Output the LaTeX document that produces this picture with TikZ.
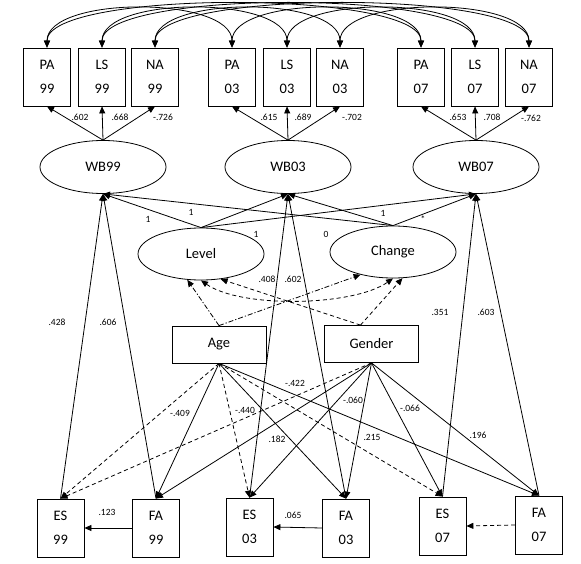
\documentclass[tikz,border=0pt]{standalone}
\usepackage{fontspec}
\setmainfont{Carlito}
\usepackage{tikz}
\usetikzlibrary{arrows.meta,shapes.geometric}

\begin{document}
\begin{tikzpicture}[
  x=1pt, y=-1pt,
  font=\fontsize{14.5}{24}\selectfont,
  obs/.style={draw, line width=0.8pt, align=center, minimum width=47pt, minimum height=58pt, inner sep=0pt},
  lat/.style={draw, ellipse, line width=0.8pt, minimum width=126pt, minimum height=53pt, inner sep=0pt},
  demo/.style={draw, line width=0.8pt, minimum width=94pt, minimum height=37pt, inner sep=0pt},
  lbl/.style={font=\fontsize{9.5}{11}\selectfont, inner sep=0pt},
  arr/.style={-{Triangle[length=7pt,width=6pt]}, line width=0.8pt},
  dsh/.style={arr, dash pattern=on 4pt off 3pt},
  dshdot/.style={arr, dash pattern=on 5pt off 2pt on 1.2pt off 2pt},
  cov/.style={{Triangle[length=7pt,width=6pt]}-{Triangle[length=7pt,width=6pt]}, line width=0.8pt}
]
\useasboundingbox (0,0) rectangle (581,564);
% indicators
\node[obs] (pa99) at (47,77) {PA\\99};
\node[obs] (ls99) at (102,77) {LS\\99};
\node[obs] (na99) at (155,77) {NA\\99};
\node[obs] (pa03) at (232,77) {PA\\03};
\node[obs] (ls03) at (287,77) {LS\\03};
\node[obs] (na03) at (340,77) {NA\\03};
\node[obs] (pa07) at (421,77) {PA\\07};
\node[obs] (ls07) at (475,77) {LS\\07};
\node[obs] (na07) at (529,77) {NA\\07};
% latent
\node[lat] (wb99) at (103,167) {WB99};
\node[lat] (wb03) at (288,167) {WB03};
\node[lat] (wb07) at (476,167) {WB07};
\node[lat, minimum height=52pt] (level) at (201,254) {Level};
\node[lat, minimum height=52pt] (change) at (393,252) {Change};
% covariates
\node[demo] (age) at (219,344.5) {Age};
\node[demo] (gender) at (371.5,344) {Gender};
\node[obs] (es99) at (60.5,528) {ES\\99};
\node[obs] (fa99) at (156,528) {FA\\99};
\node[obs] (es03) at (249.5,527) {ES\\03};
\node[obs] (fa03) at (346,528) {FA\\03};
\node[obs] (es07) at (442.5,526) {ES\\07};
\node[obs] (fa07) at (539,525) {FA\\07};

% residual covariances
\draw[cov] (pa99.north) .. controls +(0,-52) and +(0,-52) .. (pa03.north);
\draw[cov] (pa03.north) .. controls +(0,-52) and +(0,-52) .. (pa07.north);
\draw[cov] (pa99.north) .. controls +(0,-58) and +(0,-58) .. (pa07.north);
\draw[cov] (ls99.north) .. controls +(0,-52) and +(0,-52) .. (ls03.north);
\draw[cov] (ls03.north) .. controls +(0,-52) and +(0,-52) .. (ls07.north);
\draw[cov] (ls99.north) .. controls +(0,-58) and +(0,-58) .. (ls07.north);
\draw[cov] (na99.north) .. controls +(0,-52) and +(0,-52) .. (na03.north);
\draw[cov] (na03.north) .. controls +(0,-52) and +(0,-52) .. (na07.north);
\draw[cov] (na99.north) .. controls +(0,-58) and +(0,-58) .. (na07.north);

% loadings
\draw[arr] (wb99.north) -- (pa99.south);
\draw[arr] (wb99.north) -- (ls99.south);
\draw[arr] (wb99.north) -- (na99.south);
\draw[arr] (wb03.north) -- (pa03.south);
\draw[arr] (wb03.north) -- (ls03.south);
\draw[arr] (wb03.north) -- (na03.south);
\draw[arr] (wb07.north) -- (pa07.south);
\draw[arr] (wb07.north) -- (ls07.south);
\draw[arr] (wb07.north) -- (na07.south);
\node[lbl] (l1) at (80,117) {.602};
\node[lbl] (l2) at (120,117) {.668};
\node[lbl] (l3) at (163,117) {-.726};
\node[lbl] (l4) at (269,117) {.615};
\node[lbl] (l5) at (303,117) {.689};
\node[lbl] (l6) at (352,117) {-.702};
\node[lbl] (l7) at (458,117) {.653};
\node[lbl] (l8) at (492,117) {.708};
\node[lbl] (l9) at (531,118) {-.762};

% growth factors
\draw[arr] (level.north) -- (wb99.south);
\draw[arr] (level.north) -- (wb03.south);
\draw[arr] (level.north) -- (wb07.south);
\draw[arr] (change.north) -- (wb99.south);
\draw[arr] (change.north) -- (wb03.south);
\draw[arr] (change.north) -- (wb07.south);
\node[lbl] (g1) at (148,219) {1};
\node[lbl] (g2) at (191,212) {1};
\node[lbl] (g3) at (256,234) {1};
\node[lbl] (g4) at (326,234) {0};
\node[lbl] (g5) at (383,213) {1};
\node[lbl] (g6) at (423,219) {*};

% covariates to growth factors
\draw[dshdot] (age.north) -- (level.242);
\draw[dshdot] (age.north) -- (change.215);
\draw[dsh] ([xshift=-11pt]gender.north) -- (level.308);
\draw[dsh] ([xshift=-11pt]gender.north) -- (change.290);
\draw[cov, dash pattern=on 4pt off 3pt] (level.south) .. controls +(40,28) and +(-40,28) .. (change.south);

% time-varying covariates
\draw[arr] (es99.north) -- (wb99.south);
\draw[arr] (fa99.north) -- (wb99.south);
\draw[arr] (es03.north) -- (wb03.south);
\draw[arr] (fa03.north) -- (wb03.south);
\draw[arr] (es07.north) -- (wb07.south);
\draw[arr] (fa07.north) -- (wb07.south);
\node[lbl] (t1) at (57,322) {.428};
\node[lbl] (t2) at (108,322) {.606};
\node[lbl] (t3) at (267,279) {.408};
\node[lbl] (t4) at (293,279) {.602};
\node[lbl] (t5) at (440,312) {.351};
\node[lbl] (t6) at (486,312) {.603};

% age and gender
\draw[dsh] (age.south) -- (es99.north);
\draw[arr] (age.south) -- (fa99.north);
\draw[dsh] (age.south) -- (es03.north);
\draw[arr] (age.south) -- (fa03.north);
\draw[dsh] (age.south) -- (es07.north);
\draw[arr] (age.south) -- (fa07.north);
\draw[dsh] (gender.south) -- (es99.north);
\draw[arr] (gender.south) -- (fa99.north);
\draw[arr] (gender.south) -- (es03.north);
\draw[arr] (gender.south) -- (fa03.north);
\draw[arr] (gender.south) -- (es07.north);
\draw[arr] (gender.south) -- (fa07.north);
\node[lbl] (c1) at (180,413) {-.409};
\node[lbl] (c2) at (245,410) {-.440};
\node[lbl] (c3) at (277,439) {.182};
\node[lbl] (c4) at (295,383) {-.422};
\node[lbl] (c5) at (353,400) {-.060};
\node[lbl] (c6) at (372,437) {.215};
\node[lbl] (c7) at (410,408) {-.066};
\node[lbl] (c8) at (478,435) {.196};

% within wave
\draw[arr] (fa99.west) -- (es99.east);
\draw[arr] (fa03.west) -- (es03.east);
\draw[dsh] (fa07.west) -- (es07.east);
\node[lbl] (b1) at (107,512) {.123};
\node[lbl] (b2) at (293,515) {.065};
\end{tikzpicture}
\end{document}
